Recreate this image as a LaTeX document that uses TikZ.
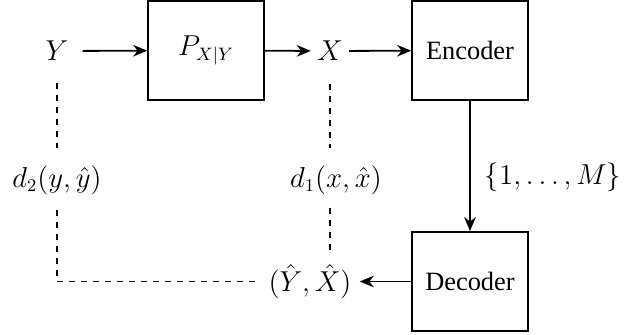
\documentclass[tikz,border=0pt]{standalone}
\usepackage{amsmath}
\usepackage{fontspec}
\setmainfont{Liberation Serif}
\usepackage{tikz}
\usetikzlibrary{arrows,arrows.meta,calc}

\begin{document}
\begin{tikzpicture}[
    x=0.5pt, y=-0.5pt,
    block/.style={rectangle, draw=black, line width=0.9pt, minimum width=58pt, minimum height=49.5pt, text centered, font=\fontsize{13.2}{16}\selectfont},
    var/.style={inner sep=0pt, font=\fontsize{13.5}{16}\selectfont},
    arrow/.style={->, >={Stealth[length=7pt,width=5.8pt]}, line width=0.9pt},
    loss/.style={dashed, line width=0.8pt}
]
    \useasboundingbox (0,0) rectangle (629,335);

    \node[block, font=\fontsize{13.5}{16}\selectfont] (chan) at (206,50.5) {$P_{X|Y}$};
    \node[block] (enc) at (470,50.5) {Encoder};
    \node[block] (dec) at (470,281.5) {Decoder};

    \node[var] (y) at (57,51) {$Y$};
    \node[var] (x) at (330,51) {$X$};
    \node[var] (d2) at (57,180) {$d_2(y,\hat{y})$};
    \node[var] (d1) at (336,180) {$d_1(x,\hat{x})$};
    \node[var] (yx) at (310,281.5) {$(\hat{Y},\hat{X})$};
    \node[var] (msg) at (553,177) {$\{1,\dots,M\}$};

    \draw[arrow, shorten <=7pt] (y) -- (chan);
    \draw[arrow, shorten >=3pt] (chan) -- (x);
    \draw[arrow, shorten <=3pt] (x) -- (enc);
    \draw[arrow] (enc) -- (dec);
    \draw[arrow, shorten >=4pt] (dec) -- (yx);

    % distortion measures
    \draw[loss, shorten <=11pt, shorten >=8.5pt] (y) -- (d2);
    \draw[loss, shorten <=7.5pt, shorten >=5.5pt] (d2) |- (yx);
    \draw[loss, shorten <=11.5pt, shorten >=8.5pt] (x) -- (x |- d1.north);
    \draw[loss, shorten <=6.5pt, shorten >=4.5pt] (x |- d1.south) -- (x |- yx.north);
\end{tikzpicture}
\end{document}
